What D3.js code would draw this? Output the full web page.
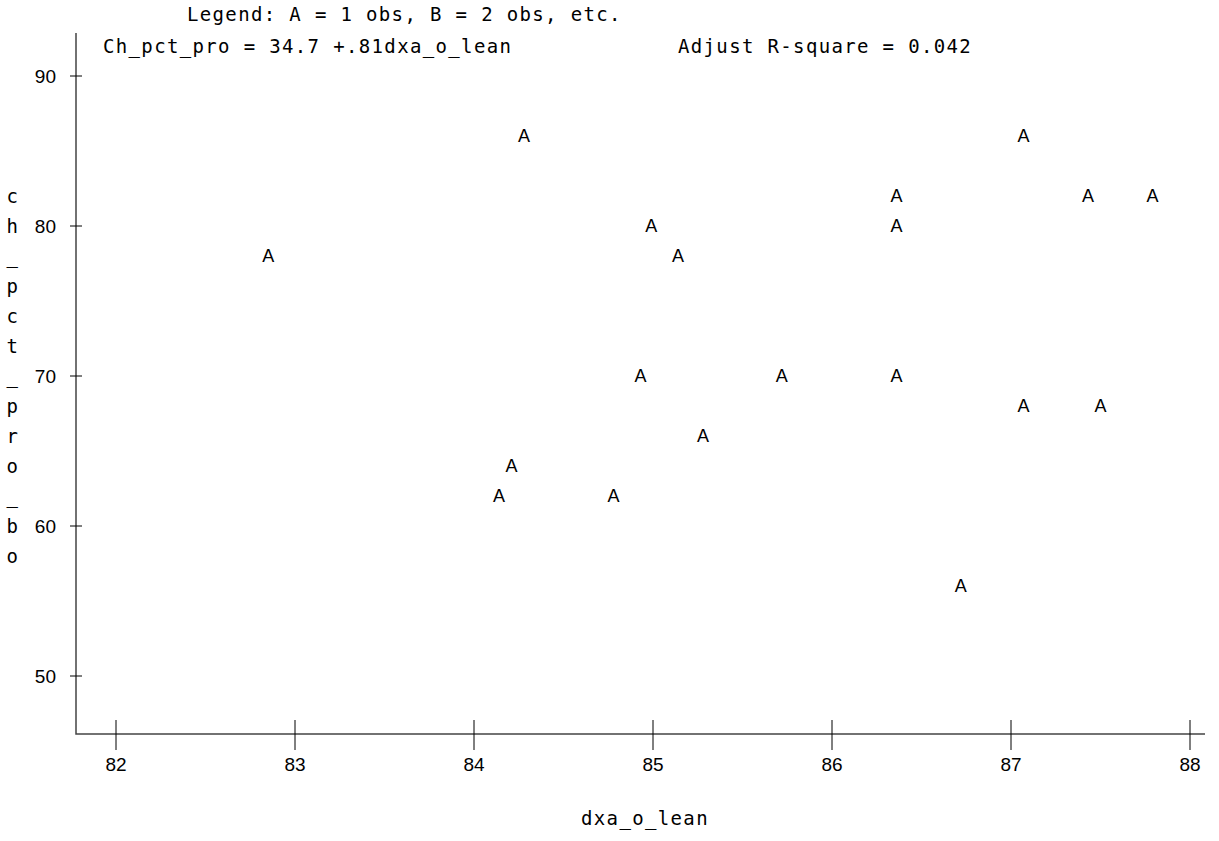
<!DOCTYPE html>
<meta charset="utf-8">
<style>
body { margin: 0; background: #fff; }
text { fill: #000; }
.mono { font-family: "DejaVu Sans Mono", monospace; font-size: 19px; letter-spacing: 1.35px; }
.sans { font-family: "Liberation Sans", Arial, sans-serif; font-size: 19px; }
.mark { font-family: "Liberation Sans", Arial, sans-serif; font-size: 18px; }
.axis-line { stroke: #444; stroke-width: 1.5; fill: none; }
.tick line { stroke: #000; stroke-width: 1; }
</style>
<body>
<script src="https://cdn.jsdelivr.net/npm/d3@7"></script>
<script>
var dxaLean = [82.85, 84.28, 84.99, 85.14, 84.93, 85.72, 86.36, 86.36, 86.36, 87.07,
               87.43, 87.79, 87.07, 87.50, 85.28, 84.21, 84.14, 84.78, 86.72];
var chPct   = [78, 86, 80, 78, 70, 70, 82, 80, 70, 86,
               82, 82, 68, 68, 66, 64, 62, 62, 56];
var xTicks = [82, 83, 84, 85, 86, 87, 88];
var yTicks = [50, 60, 70, 80, 90];
var yLabel = "ch_pct_pro_bo";
var legendText = "Legend: A = 1 obs, B = 2 obs, etc.";
var fitText = "Ch_pct_pro = 34.7 +.81dxa_o_lean";
var rsqText = "Adjust R-square = 0.042";
var xTitle = "dxa_o_lean";

var W = 1219, H = 841;
var axisX = 76, axisY = 734, axisTop = 33, axisRight = 1205;

var x = d3.scaleLinear().domain([82, 88]).range([116, 1190]);
var y = d3.scaleLinear().domain([50, 90]).range([676, 76]);

var svg = d3.select("body").append("svg")
    .attr("width", W)
    .attr("height", H);

// axis lines
svg.append("path").attr("class", "axis-line")
    .attr("d", "M" + axisX + "," + axisTop + "V" + axisY + "H" + axisRight);

// y ticks (cross the axis)
var yt = svg.selectAll(".ytick").data(yTicks).enter().append("g")
    .attr("class", "tick")
    .attr("transform", function(d) { return "translate(" + axisX + "," + y(d) + ")"; });
yt.append("line").attr("x1", -6).attr("x2", 6);
yt.append("text").attr("class", "sans")
    .attr("x", -20).attr("dy", "0.35em")
    .attr("text-anchor", "end")
    .text(function(d) { return d; });

// x ticks
var xt = svg.selectAll(".xtick").data(xTicks).enter().append("g")
    .attr("class", "tick")
    .attr("transform", function(d) { return "translate(" + x(d) + "," + axisY + ")"; });
xt.append("line").attr("y1", -14).attr("y2", 16);
xt.append("text").attr("class", "sans")
    .attr("y", 30).attr("dy", "0.35em")
    .attr("text-anchor", "middle")
    .text(function(d) { return d; });

// points drawn as letters
var pts = dxaLean.map(function(v, i) { return {x: v, y: chPct[i]}; });
svg.selectAll(".pt").data(pts).enter().append("text")
    .attr("class", "mark")
    .attr("x", function(d) { return x(d.x); })
    .attr("y", function(d) { return y(d.y); })
    .attr("dy", "0.35em")
    .attr("text-anchor", "middle")
    .text("A");

// header lines
svg.append("text").attr("class", "mono").attr("x", 187).attr("y", 14).attr("dy", "0.35em").text(legendText);
svg.append("text").attr("class", "mono").attr("x", 103).attr("y", 46).attr("dy", "0.35em").text(fitText);
svg.append("text").attr("class", "mono").attr("x", 678).attr("y", 46).attr("dy", "0.35em").text(rsqText);

// vertical y label, one char per row
var chars = yLabel.split("");
var mid = y(70);
svg.selectAll(".ylab").data(chars).enter().append("text")
    .attr("class", "mono")
    .attr("x", 13)
    .attr("y", function(d, i) { return mid + (i - (chars.length - 1) / 2) * 30; })
    .attr("dy", "0.35em")
    .attr("text-anchor", "middle")
    .text(function(d) { return d; });

// x title
svg.append("text").attr("class", "mono")
    .attr("x", 645).attr("y", 818).attr("dy", "0.35em")
    .attr("text-anchor", "middle")
    .text(xTitle);
</script>
</body>
